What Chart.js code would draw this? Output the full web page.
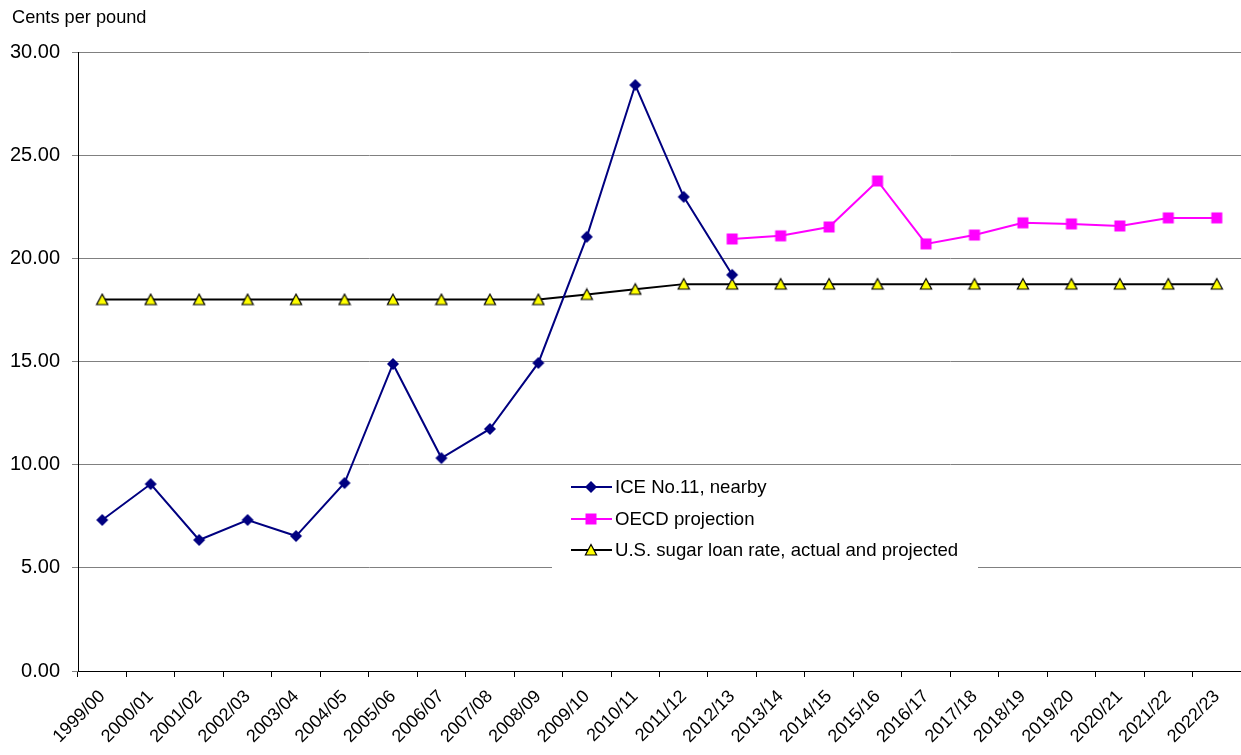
<!DOCTYPE html>
<html><head><meta charset="utf-8">
<script src="https://cdn.jsdelivr.net/npm/chart.js@4/dist/chart.umd.min.js"></script>
<style>html,body{margin:0;padding:0;background:#fff}#wrap{position:relative;width:1241px;height:755px}</style>
</head><body><div id="wrap"><canvas id="c" width="1241" height="755"></canvas></div>
<script>
const categories = ["1999/00","2000/01","2001/02","2002/03","2003/04","2004/05","2005/06","2006/07","2007/08","2008/09","2009/10","2010/11","2011/12","2012/13","2013/14","2014/15","2015/16","2016/17","2017/18","2018/19","2019/20","2020/21","2021/22","2022/23"];
const iceNearby = [7.32,9.06,6.35,7.32,6.54,9.11,14.88,10.32,11.73,14.93,21.04,28.40,22.98,19.20,null,null,null,null,null,null,null,null,null,null];
const oecdProjection = [null,null,null,null,null,null,null,null,null,null,null,null,null,20.94,21.09,21.52,23.75,20.70,21.13,21.72,21.67,21.57,21.96,21.96];
const loanRate = [18.00,18.00,18.00,18.00,18.00,18.00,18.00,18.00,18.00,18.00,18.25,18.50,18.75,18.75,18.75,18.75,18.75,18.75,18.75,18.75,18.75,18.75,18.75,18.75];
const yTicks = [0,5,10,15,20,25,30];
const seriesNames = ["ICE No.11, nearby","OECD projection","U.S. sugar loan rate, actual and projected"];
const FONT = "'Liberation Sans', Arial, sans-serif";

function makeMarker(kind) {
  const cv = document.createElement('canvas');
  cv.width = 14; cv.height = 14;
  const g = cv.getContext('2d');
  g.beginPath();
  if (kind === 'diamond') {
    g.moveTo(7, 1); g.lineTo(13, 7); g.lineTo(7, 13); g.lineTo(1, 7); g.closePath();
    g.fillStyle = '#000080'; g.fill();
  } else if (kind === 'square') {
    g.rect(1.5, 1.5, 11, 11);
    g.fillStyle = '#FF00FF'; g.fill();
  } else {
    g.moveTo(7, 1.5); g.lineTo(12.6, 12); g.lineTo(1.4, 12); g.closePath();
    g.fillStyle = '#FFFF00'; g.fill();
    g.lineWidth = 1.2; g.strokeStyle = '#000'; g.lineJoin = 'miter'; g.stroke();
  }
  return cv;
}
const markers = [makeMarker('diamond'), makeMarker('square'), makeMarker('triangle')];

const legendPlugin = {
  id: 'customLegend',
  afterDatasetsDraw(chart) {
    const ctx = chart.ctx;
    ctx.save();
    ctx.fillStyle = '#fff';
    ctx.fillRect(552, 468, 426, 102);
    const rows = [487, 519, 550];
    chart.data.datasets.forEach((ds, i) => {
      const y = rows[i];
      ctx.strokeStyle = ds.borderColor;
      ctx.lineWidth = 2;
      ctx.beginPath(); ctx.moveTo(571, y); ctx.lineTo(612, y); ctx.stroke();
      ctx.drawImage(markers[i], 591 - 7, y - 7);
      ctx.fillStyle = '#000';
      ctx.font = '18.6px ' + FONT;
      ctx.textBaseline = 'middle';
      ctx.textAlign = 'left';
      ctx.fillText(ds.label, 615, y + 1);
    });
    ctx.restore();
  }
};
const titlePlugin = {
  id: 'unitTitle',
  afterDraw(chart) {
    const ctx = chart.ctx;
    ctx.save();
    ctx.fillStyle = '#000';
    ctx.font = '18.2px ' + FONT;
    ctx.textBaseline = 'middle';
    ctx.textAlign = 'left';
    ctx.fillText('Cents per pound', 12, 18);
    ctx.restore();
  }
};

new Chart(document.getElementById('c'), {
  type: 'line',
  data: {
    labels: categories,
    datasets: [
      {label: seriesNames[0], data: iceNearby, borderColor: '#000080', backgroundColor: '#000080', borderWidth: 2, pointStyle: markers[0], pointRadius: 6, tension: 0, spanGaps: false},
      {label: seriesNames[1], data: oecdProjection, borderColor: '#FF00FF', backgroundColor: '#FF00FF', borderWidth: 2, pointStyle: markers[1], pointRadius: 6, tension: 0},
      {label: seriesNames[2], data: loanRate, borderColor: '#000000', backgroundColor: '#FFFF00', borderWidth: 2, pointStyle: markers[2], pointRadius: 6, tension: 0}
    ]
  },
  options: {
    responsive: false,
    animation: false,
    layout: {autoPadding: false, padding: {top: 52, left: 0, right: 0, bottom: 0}},
    plugins: {legend: {display: false}, tooltip: {enabled: false}},
    scales: {
      x: {
        type: 'category',
        offset: true,
        grid: {display: true, drawOnChartArea: false, offset: true, tickLength: 6, color: '#000'},
        border: {color: '#000', width: 1},
        ticks: {color: '#000', font: {family: FONT, size: 18}, minRotation: 45, maxRotation: 45, autoSkip: false, padding: 9},
        afterFit(s) { s.height = 84; s.paddingLeft = 0; s.paddingRight = 0; }
      },
      y: {
        min: 0, max: 30,
        afterBuildTicks(s) { s.ticks = yTicks.map(v => ({value: v})); },
        grid: {color: '#808080', lineWidth: 1, tickLength: 6},
        border: {color: '#000', width: 1},
        ticks: {color: '#000', font: {family: FONT, size: 20}, padding: 12, callback: v => Number(v).toFixed(2)},
        afterFit(s) { s.width = 78; s.paddingTop = 0; s.paddingBottom = 0; }
      }
    }
  },
  plugins: [legendPlugin, titlePlugin]
});
</script></body></html>
